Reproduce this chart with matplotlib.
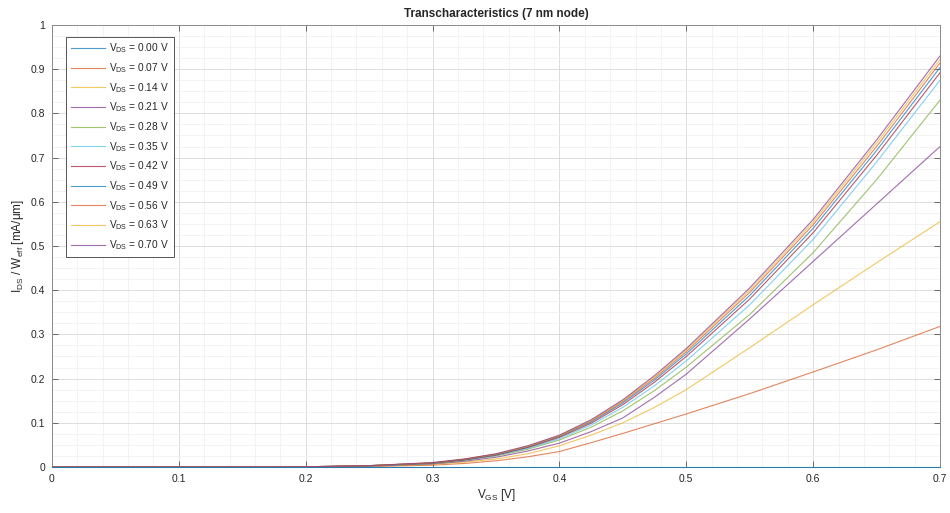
import matplotlib
matplotlib.use("Agg")
import matplotlib.pyplot as plt
from matplotlib.ticker import MultipleLocator, AutoMinorLocator

plt.rcParams["font.family"] = ["Liberation Sans", "DejaVu Sans"]

# gate voltage samples [V]
vgs = [0, 0.1, 0.2, 0.25, 0.3, 0.325, 0.35, 0.375, 0.4, 0.425, 0.45, 0.475, 0.5, 0.55, 0.6, 0.65, 0.7]

vds_labels = ["0.00", "0.07", "0.14", "0.21", "0.28", "0.35", "0.42", "0.49", "0.56", "0.63", "0.70"]

# drain current per width [mA/um], one list per V_DS
ids_000 = [0] * 17
ids_007 = [0, 0, 0.0002, 0.001, 0.004, 0.008, 0.014, 0.023, 0.035, 0.055, 0.076, 0.098, 0.120, 0.166, 0.215, 0.265, 0.318]
ids_014 = [0, 0, 0.0003, 0.002, 0.006, 0.011, 0.018, 0.030, 0.048, 0.072, 0.100, 0.135, 0.175, 0.270, 0.367, 0.462, 0.555]
ids_021 = [0, 0, 0.0003, 0.002, 0.007, 0.013, 0.022, 0.036, 0.054, 0.080, 0.111, 0.158, 0.210, 0.335, 0.465, 0.595, 0.725]
ids_028 = [0, 0, 0.0004, 0.002, 0.008, 0.015, 0.025, 0.040, 0.061, 0.090, 0.127, 0.173, 0.226, 0.345, 0.485, 0.650, 0.830]
ids_035 = [0, 0, 0.0004, 0.002, 0.008, 0.015, 0.026, 0.042, 0.064, 0.095, 0.135, 0.184, 0.240, 0.367, 0.515, 0.690, 0.875]
ids_042 = [0, 0, 0.0004, 0.003, 0.009, 0.016, 0.027, 0.044, 0.067, 0.099, 0.141, 0.192, 0.250, 0.380, 0.530, 0.705, 0.892]
ids_049 = [0, 0, 0.0005, 0.003, 0.009, 0.017, 0.028, 0.045, 0.069, 0.102, 0.145, 0.197, 0.256, 0.388, 0.540, 0.716, 0.904]
ids_056 = [0, 0, 0.0005, 0.003, 0.009, 0.017, 0.029, 0.046, 0.070, 0.104, 0.148, 0.201, 0.261, 0.395, 0.548, 0.725, 0.914]
ids_063 = [0, 0, 0.0005, 0.003, 0.010, 0.018, 0.029, 0.047, 0.071, 0.105, 0.150, 0.204, 0.265, 0.400, 0.554, 0.733, 0.922]
ids_070 = [0, 0, 0.0005, 0.003, 0.010, 0.018, 0.030, 0.048, 0.072, 0.107, 0.152, 0.207, 0.268, 0.405, 0.560, 0.740, 0.930]

curves = [ids_000, ids_007, ids_014, ids_021, ids_028, ids_035,
          ids_042, ids_049, ids_056, ids_063, ids_070]

# MATLAB default colour order
colors = ["#0072bd", "#d95319", "#edb120", "#7e2f8e", "#77ac30",
          "#4dbeee", "#a2142f"]

fig = plt.figure(figsize=(9.5, 5.13), dpi=100)
ax = fig.add_axes([0.0547, 0.0897, 0.9348, 0.8616])

for i, (lab, ids) in enumerate(zip(vds_labels, curves)):
    ax.plot(vgs, ids, color=colors[i % 7], lw=0.8, alpha=0.7,
            label="V$_{\\mathregular{DS}}$ = " + lab + " V",
            clip_on=(i != 0), zorder=3)

ax.set_xlim(0, 0.7)
ax.set_ylim(0, 1)
ax.xaxis.set_major_locator(MultipleLocator(0.1))
ax.yaxis.set_major_locator(MultipleLocator(0.1))
ax.xaxis.set_minor_locator(AutoMinorLocator(5))
ax.yaxis.set_minor_locator(AutoMinorLocator(4))
ax.set_xticks([0, 0.1, 0.2, 0.3, 0.4, 0.5, 0.6, 0.7])
ax.set_xticklabels(["0", "0.1", "0.2", "0.3", "0.4", "0.5", "0.6", "0.7"])
ax.set_yticks([0, 0.1, 0.2, 0.3, 0.4, 0.5, 0.6, 0.7, 0.8, 0.9, 1])
ax.set_yticklabels(["0", "0.1", "0.2", "0.3", "0.4", "0.5", "0.6", "0.7", "0.8", "0.9", "1"])

ax.grid(which="major", color="#d8d8d8", lw=0.6)
ax.grid(which="minor", color="#efefef", lw=0.5)
ax.set_axisbelow(True)

ax.tick_params(which="major", direction="in", length=4, width=0.6,
               top=True, right=True, labelsize=7.5, colors="#555555",
               labelcolor="#262626", pad=5)
ax.tick_params(which="minor", length=0, top=True, right=True)
for s in ax.spines.values():
    s.set_color("#8a8a8a")
    s.set_linewidth(0.7)

ax.set_title("Transcharacteristics (7 nm node)", fontsize=8.5, fontweight="bold",
             color="#262626", pad=6)
ax.set_xlabel("V$_{\\mathregular{GS}}$ [V]", fontsize=8.5, color="#262626", labelpad=2)
ax.set_ylabel("I$_{\\mathregular{DS}}$ / W$_{\\mathregular{eff}}$ [mA/\u03bcm]", fontsize=8.5,
              color="#262626", labelpad=3)

leg = ax.legend(loc="upper left", bbox_to_anchor=(0.016, 0.973), fontsize=7.3,
                frameon=True, fancybox=False, framealpha=1, edgecolor="#555555",
                handlelength=3.4, handletextpad=0.4, labelspacing=0.58,
                borderpad=0.45, borderaxespad=0)
leg.get_frame().set_linewidth(0.7)
for t in leg.get_texts():
    t.set_color("#262626")

fig.savefig("out.png", dpi=100)
